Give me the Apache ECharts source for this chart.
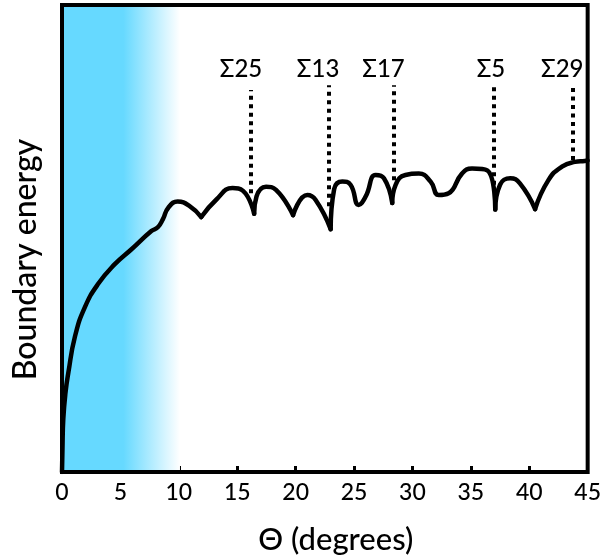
<!DOCTYPE html>
<html>
<head>
<meta charset="utf-8">
<script src="https://cdn.jsdelivr.net/npm/echarts@6/dist/echarts.min.js"></script>
<style>
  html, body { margin: 0; padding: 0; background: #fff; }
  #chart { width: 604px; height: 560px; }
</style>
</head>
<body>
<div id="chart"></div>
<script>
// boundary energy vs misorientation angle (arbitrary energy units 0-100)
var theta = [0, 0.04, 0.11, 0.3, 0.54, 1.11, 1.96, 3.1, 4.52, 5.95, 7.65, 8.2, 8.65, 9.1, 9.9, 10.9, 11.92,
  13.2, 14.6, 15.5, 16.45, 16.65, 17.47, 18.32, 19.78, 21.0, 21.7, 23.0, 23.3, 24.0, 24.7, 25.4, 26.0,
  26.85, 27.56, 28.27, 28.56, 29.4, 30.55, 31.55, 32.25, 33.1, 34.24, 35.1, 36.4, 37.09, 37.5, 38.37,
  39.2, 40.5, 41.64, 42.8, 43.9, 44.75, 45];
var energy = [0, 5, 11.3, 17, 21.2, 29, 35.3, 40.3, 44.5, 47.7, 51.6, 52.4, 54.2, 56.6, 57.9, 57.0, 54.6,
  58.3, 60.8, 60.2, 55.3, 59.0, 61.1, 60.4, 55.0, 59.3, 58.3, 52.0, 60.6, 62.2, 61.5, 57.2, 59.0,
  63.6, 62.9, 57.6, 61.5, 63.6, 63.9, 62.2, 59.3, 59.7, 63.9, 65.0, 64.6, 56.2, 61.5, 62.9,
  61.8, 56.3, 62.5, 65.4, 66.4, 66.6, 66.7];
// sharp cusps where the curve is not smooth
var cuspTheta = [11.92, 16.45, 19.78, 23.0, 28.27, 37.09, 40.5];

// special boundaries (coincidence site lattice)
var sigmaNames = ["Σ25", "Σ13", "Σ17", "Σ5", "Σ29"];
var sigmaTheta = [16.2, 22.8, 28.4, 37.0, 43.7];
var sigmaBase = [59.7, 56.9, 62.5, 61.5, 66.8];
var sigmaTop = [81.8, 82.8, 82.8, 82.8, 82.8];

var xTicks = [0, 5, 10, 15, 20, 25, 30, 35, 40, 45];

var blue = "rgb(102,217,255)";
var font = "Lato, 'Open Sans', sans-serif";

// split the curve into smooth pieces between cusps
var segments = [];
var cur = [];
for (var i = 0; i < theta.length; i++) {
  cur.push([theta[i], energy[i]]);
  if (cuspTheta.indexOf(theta[i]) >= 0) {
    segments.push(cur);
    cur = [[theta[i], energy[i]]];
  }
}
segments.push(cur);

var series = segments.map(function (seg, k) {
  var s = {
    type: "line",
    data: seg,
    smooth: 0.5,
    symbol: "none",
    lineStyle: { color: "#000", width: 4.5, cap: "round", join: "round" },
    z: 5
  };
  if (k === 0) {
    s.markArea = {
      silent: true,
      itemStyle: {
        color: new echarts.graphic.LinearGradient(0, 0, 1, 0, [
          { offset: 0, color: blue },
          { offset: 0.52, color: blue },
          { offset: 1, color: "rgba(255,255,255,1)" }
        ])
      },
      data: [[{ xAxis: 0 }, { xAxis: 10.1 }]]
    };
  }
  return s;
});

// dotted markers
series.push({
  type: "line",
  data: [],
  z: 4,
  markLine: {
    silent: true,
    symbol: "none",
    label: { show: false },
    lineStyle: { color: "#000", width: 4, type: [4, 4.5], cap: "butt" },
    data: sigmaTheta.map(function (t, i) {
      return [{ coord: [t, sigmaBase[i]] }, { coord: [t, sigmaTop[i]] }];
    })
  }
});

// labels above markers
series.push({
  type: "scatter",
  symbolSize: 0,
  itemStyle: { opacity: 1 },
  data: sigmaTheta.map(function (t, i) { return [t, 86.3, sigmaNames[i]]; }),
  label: {
    show: true,
    position: "inside",
    align: "right",
    verticalAlign: "middle",
    offset: [11, 0],
    formatter: function (p) { return p.value[2]; },
    color: "#000",
    fontFamily: font,
    fontWeight: 500,
    fontSize: 24
  },
  z: 6
});

var chart = echarts.init(document.getElementById("chart"));
chart.setOption({
  backgroundColor: "#fff",
  animation: false,
  grid: {
    left: 62, right: 14.5, top: 5, bottom: 83.5,
    show: true, borderColor: "#000", borderWidth: 4, z: 10
  },
  xAxis: {
    type: "value",
    min: 0, max: 45, interval: 5,
    name: "Θ (degrees)",
    nameLocation: "middle",
    nameGap: 52,
    nameTextStyle: { color: "#000", fontFamily: font, fontWeight: 500, fontSize: 31, padding: [0, 0, 0, 22] },
    axisLine: { show: false },
    axisTick: { show: true, inside: true, length: 6, lineStyle: { color: "#000", width: 3 } },
    splitLine: { show: false },
    axisLabel: {
      color: "#000", fontFamily: font, fontWeight: 500, fontSize: 23, margin: 9,
      formatter: function (v) { return xTicks.indexOf(v) >= 0 ? String(v) : ""; }
    }
  },
  yAxis: {
    type: "value",
    min: 0, max: 100,
    name: "Boundary energy",
    nameLocation: "middle",
    nameGap: 20,
    nameTextStyle: { color: "#000", fontFamily: font, fontWeight: 500, fontSize: 32, padding: [0, 42, 0, 0] },
    axisLine: { show: false },
    axisTick: { show: false },
    axisLabel: { show: false },
    splitLine: { show: false }
  },
  series: series
});
</script>
</body>
</html>
